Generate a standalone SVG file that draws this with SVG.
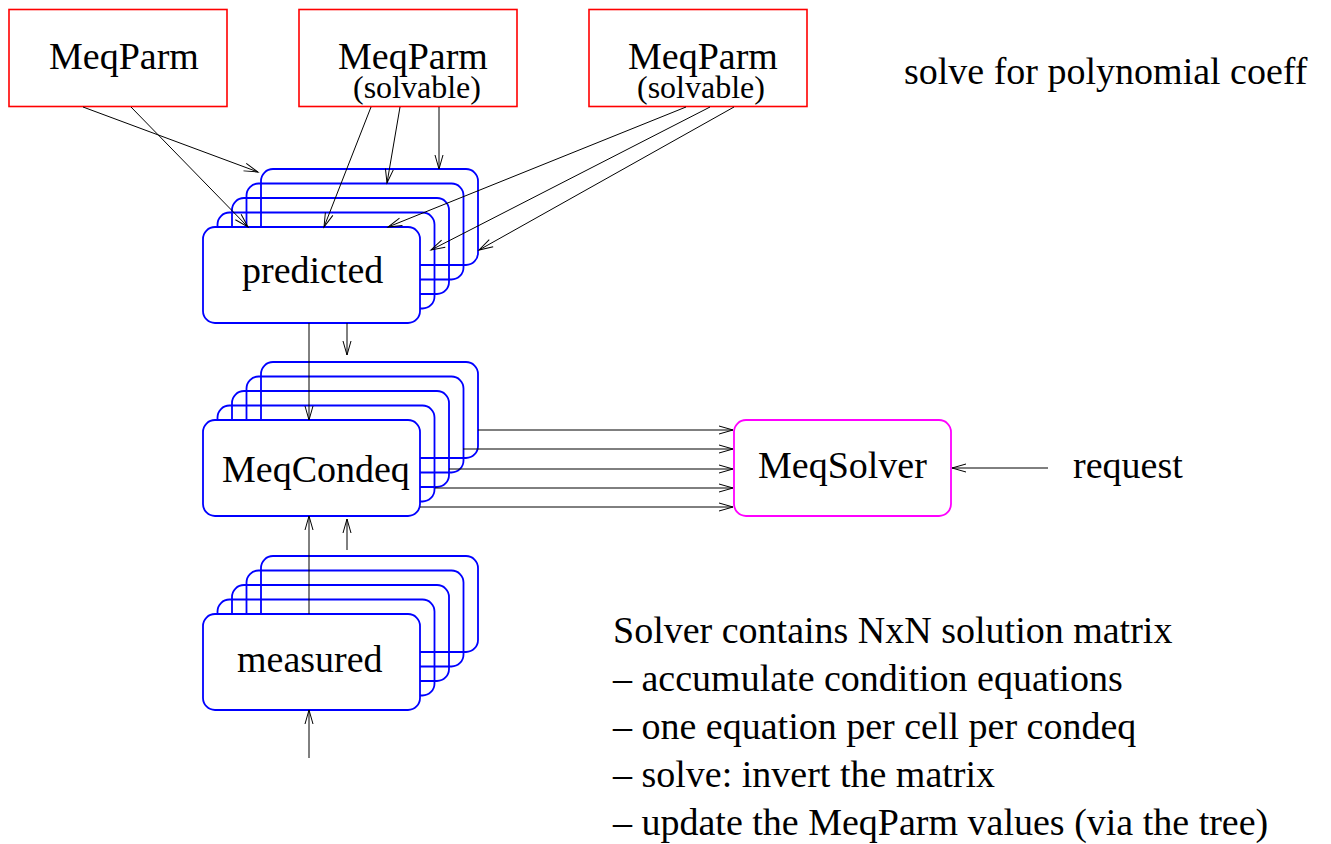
<svg xmlns="http://www.w3.org/2000/svg" width="1331" height="844" viewBox="0 0 1331 844">
<style>
text{font-family:"Liberation Serif","Times New Roman",serif;font-size:38px;fill:#000}
.sm{font-size:32px}
.parm{fill:#fff;stroke:#ff0000;stroke-width:1.6}
.back{fill:none;stroke:#0000ff;stroke-width:1.8}
.front{fill:#fff;stroke:#0000ff;stroke-width:1.8}
.solver{fill:#fff;stroke:#ff00ff;stroke-width:1.8}
.c line{stroke:#000;stroke-width:1;marker-end:url(#ah)}
</style>
<defs>
<marker id="ah" markerUnits="userSpaceOnUse" markerWidth="16" markerHeight="10" refX="14" refY="4" orient="auto" overflow="visible">
<path d="M0,0 L14,4 L0,8" fill="none" stroke="#000" stroke-width="1"/>
</marker>
</defs>
<rect width="1331" height="844" fill="#fff"/>

<g id="parm1">
<rect class="parm" x="9" y="9.5" width="218" height="97"/>
<text x="49" y="69">MeqParm</text>
</g>
<g id="parm2">
<rect class="parm" x="299" y="9.5" width="218" height="97"/>
<text x="338" y="69">MeqParm</text>
<text class="sm" x="353" y="98">(solvable)</text>
</g>
<g id="parm3">
<rect class="parm" x="589" y="9.5" width="218" height="97"/>
<text x="628" y="69">MeqParm</text>
<text class="sm" x="637" y="98">(solvable)</text>
</g>

<g id="predicted">
<rect class="back" x="261" y="169" width="217" height="96" rx="12"/>
<rect class="back" x="246.5" y="183.5" width="217" height="96" rx="12"/>
<rect class="back" x="232" y="198" width="217" height="96" rx="12"/>
<rect class="back" x="217.5" y="212.5" width="217" height="96" rx="12"/>
<rect class="front" x="203" y="227" width="217" height="96" rx="12"/>
<text x="242" y="283">predicted</text>
</g>

<g id="condeq">
<rect class="back" x="261" y="362" width="217" height="96" rx="12"/>
<rect class="back" x="246.5" y="376.5" width="217" height="96" rx="12"/>
<rect class="back" x="232" y="391" width="217" height="96" rx="12"/>
<rect class="back" x="217.5" y="405.5" width="217" height="96" rx="12"/>
<rect class="front" x="203" y="420" width="217" height="96" rx="12"/>
<text x="222" y="482">MeqCondeq</text>
</g>

<g id="measured">
<rect class="back" x="261" y="556" width="217" height="96" rx="12"/>
<rect class="back" x="246.5" y="570.5" width="217" height="96" rx="12"/>
<rect class="back" x="232" y="585" width="217" height="96" rx="12"/>
<rect class="back" x="217.5" y="599.5" width="217" height="96" rx="12"/>
<rect class="front" x="203" y="614" width="217" height="96" rx="12"/>
<text x="237" y="672">measured</text>
</g>

<g id="solver">
<rect class="solver" x="734" y="420" width="217" height="96" rx="12"/>
<text x="758" y="478">MeqSolver</text>
</g>

<g id="connectors" class="c">
<line x1="83" y1="107" x2="258" y2="172"/>
<line x1="131" y1="107" x2="248" y2="227"/>
<line x1="371" y1="107" x2="324" y2="227"/>
<line x1="400" y1="107" x2="387" y2="183"/>
<line x1="439" y1="107" x2="439" y2="169"/>
<line x1="686" y1="107" x2="388" y2="227"/>
<line x1="710" y1="107" x2="431" y2="250"/>
<line x1="734" y1="107" x2="479" y2="250"/>
<line x1="309" y1="323" x2="309" y2="420"/>
<line x1="347" y1="323" x2="347" y2="355"/>
<line x1="309" y1="614" x2="309" y2="516"/>
<line x1="347" y1="550" x2="347" y2="519"/>
<line x1="309" y1="758" x2="309" y2="710"/>
<line x1="478" y1="430" x2="733" y2="430"/>
<line x1="463" y1="449" x2="733" y2="449"/>
<line x1="449" y1="469" x2="733" y2="469"/>
<line x1="435" y1="488" x2="733" y2="488"/>
<line x1="420" y1="507" x2="733" y2="507"/>
<line x1="1048" y1="468" x2="952" y2="468"/>
</g>

<g id="labels">
<text x="904" y="84">solve for polynomial coeff</text>
<text x="1073" y="478">request</text>
<text x="613" y="643">Solver contains NxN solution matrix</text>
<text x="613" y="691">– accumulate condition equations</text>
<text x="613" y="739">– one equation per cell per condeq</text>
<text x="613" y="787">– solve: invert the matrix</text>
<text x="613" y="835">– update the MeqParm values (via the tree)</text>
</g>
</svg>
